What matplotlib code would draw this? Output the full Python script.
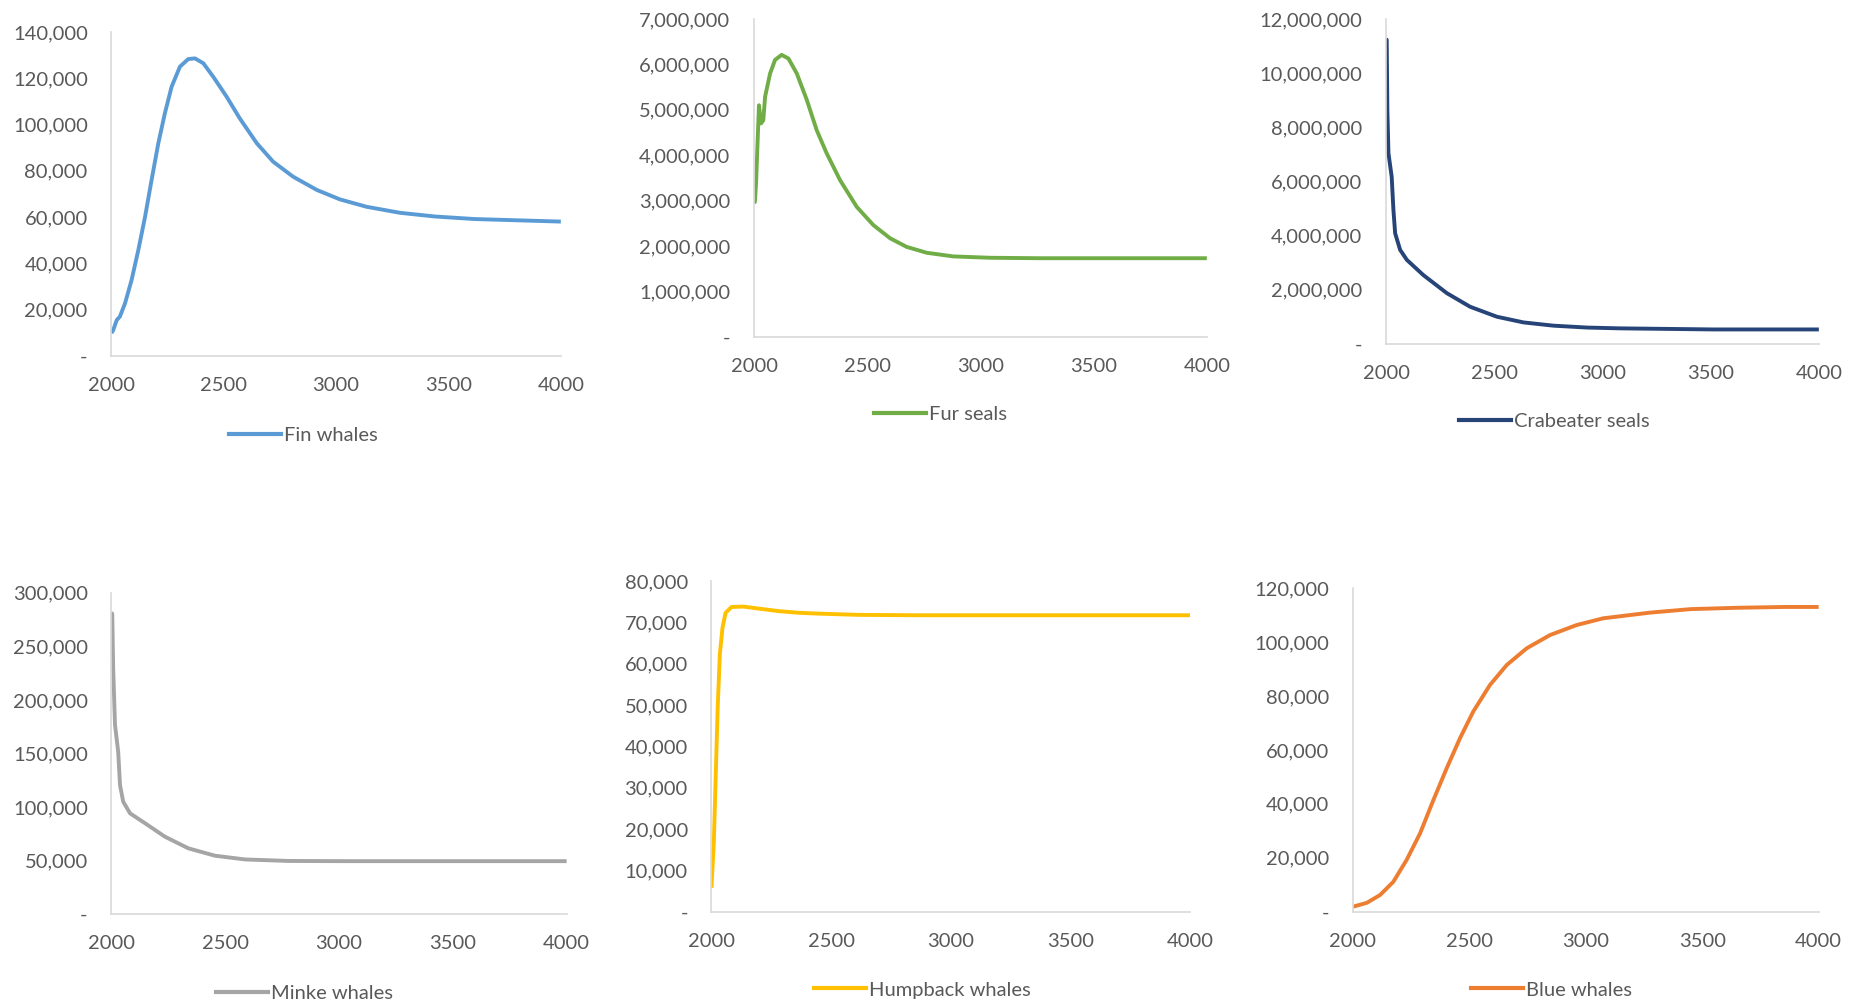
import numpy as np
import matplotlib
matplotlib.use("Agg")
import matplotlib.pyplot as plt
from matplotlib.ticker import FuncFormatter, MultipleLocator
from matplotlib.lines import Line2D

plt.rcParams['font.family'] = ['Lato', 'DejaVu Sans']

# values (year, population)
fin_years = [2000, 2008, 2024, 2038, 2061, 2090, 2120, 2150, 2179, 2209, 2238, 2268, 2305,
             2342, 2372, 2409, 2453, 2513, 2571, 2647, 2720, 2809, 2914, 3017, 3136, 3284,
             3440, 3616, 3792, 4000]
fin_vals = [9800, 11000, 15400, 16900, 22700, 32700, 45700, 60100, 76000, 91900, 104800,
            116300, 125000, 128300, 128600, 126500, 120700, 112000, 102700, 91900, 83900,
            77400, 71700, 67600, 64400, 61800, 60200, 59100, 58600, 58000]

fur_years = [2000, 2004, 2009, 2016, 2022, 2031, 2041, 2049, 2071, 2093, 2122, 2152, 2189,
             2233, 2277, 2321, 2380, 2454, 2527, 2601, 2674, 2763, 2880, 3042, 3263, 3600, 4000]
fur_vals = [2.95e6, 2.97e6, 3.38e6, 4.33e6, 5.1e6, 4.7e6, 4.77e6, 5.29e6, 5.8e6, 6.1e6,
            6.21e6, 6.13e6, 5.8e6, 5.22e6, 4.55e6, 4.04e6, 3.45e6, 2.86e6, 2.46e6, 2.17e6,
            1.98e6, 1.85e6, 1.77e6, 1.74e6, 1.73e6, 1.73e6, 1.73e6]

crab_years = [2000, 2003, 2006, 2011, 2026, 2034, 2042, 2065, 2096, 2172, 2281, 2388, 2512,
              2635, 2773, 2928, 3082, 3300, 3512, 3750, 4000]
crab_vals = [11.28e6, 11.22e6, 8.64e6, 7.04e6, 6.17e6, 4.94e6, 4.08e6, 3.47e6, 3.10e6,
             2.54e6, 1.87e6, 1.37e6, 1.0e6, 0.79e6, 0.67e6, 0.6e6, 0.57e6, 0.55e6, 0.53e6,
             0.53e6, 0.53e6]

minke_years = [2000, 2004, 2008, 2016, 2030, 2038, 2052, 2082, 2148, 2235, 2338, 2455, 2587,
               2777, 3026, 3500, 4000]
minke_vals = [282000, 280000, 229500, 176600, 151600, 120500, 105000, 94100, 84800, 72300,
              61400, 54500, 51000, 49600, 49400, 49400, 49400]

hump_years = [2000, 2010, 2018, 2026, 2035, 2046, 2059, 2084, 2133, 2199, 2281, 2364, 2446,
              2610, 2857, 3500, 4000]
hump_vals = [5800, 16800, 33000, 49200, 62200, 68600, 72300, 73700, 73800, 73300, 72700,
             72300, 72100, 71800, 71700, 71700, 71700]

blue_years = [2000, 2060, 2117, 2174, 2231, 2289, 2346, 2403, 2460, 2517, 2589, 2661, 2747,
              2847, 2961, 3075, 3276, 3450, 3650, 3850, 4000]
blue_vals = [1850, 3300, 6200, 11100, 19200, 29100, 41400, 53200, 64300, 74200, 84100, 91500,
             97700, 102600, 106300, 108800, 110900, 112200, 112700, 113000, 113000]

TEXT = '#595959'
AXIS = '#d9d9d9'


def fmt(v, pos):
    if abs(v) < 1e-9:
        return '-'
    return '{:,}'.format(int(round(v)))


# (name, years, values, colour, ymax, ystep, axes rect, legend anchor)
panels = [
    ('Fin whales', fin_years, fin_vals, '#5b9bd5', 140000, 20000,
     [0.0599, 0.6468, 0.2418, 0.3214], (0.1232, 0.568)),
    ('Fur seals', fur_years, fur_vals, '#70ad47', 7e6, 1e6,
     [0.4056, 0.6656, 0.2436, 0.3155], (0.4701, 0.588)),
    ('Crabeater seals', crab_years, crab_vals, '#264478', 12e6, 2e6,
     [0.7456, 0.6586, 0.2328, 0.3225], (0.7848, 0.581)),
    ('Minke whales', minke_years, minke_vals, '#a5a5a5', 300000, 50000,
     [0.0599, 0.0923, 0.2449, 0.3190], (0.1162, 0.0134)),
    ('Humpback whales', hump_years, hump_vals, '#ffc000', 80000, 10000,
     [0.3827, 0.0946, 0.2576, 0.3285], (0.4379, 0.0169)),
    ('Blue whales', blue_years, blue_vals, '#ed7d31', 120000, 20000,
     [0.7277, 0.0946, 0.2506, 0.3214], (0.7913, 0.0169)),
]

fig = plt.figure(figsize=(18.59, 10.07), dpi=100)

for name, yrs, vals, col, ymax, ystep, rect, anchor in panels:
    ax = fig.add_axes(rect)
    ax.plot(yrs, vals, color=col, lw=2.8, solid_joinstyle='round', solid_capstyle='butt')
    ax.set_xlim(2000, 4000)
    ax.set_ylim(0, ymax)
    ax.xaxis.set_major_locator(MultipleLocator(500))
    ax.yaxis.set_major_locator(MultipleLocator(ystep))
    ax.yaxis.set_major_formatter(FuncFormatter(fmt))
    for s in ['top', 'right']:
        ax.spines[s].set_visible(False)
    for s in ['left', 'bottom']:
        ax.spines[s].set_color(AXIS)
        ax.spines[s].set_linewidth(1.2)
    ax.tick_params(axis='y', length=0, pad=17, labelsize=14.5, labelcolor=TEXT)
    ax.tick_params(axis='x', length=0, pad=15, labelsize=14.5, labelcolor=TEXT)
    handle = Line2D([], [], color=col, lw=3)
    fig.legend([handle], [name], loc='center left', bbox_to_anchor=anchor,
               bbox_transform=fig.transFigure, frameon=False, fontsize=14.5,
               labelcolor=TEXT, handlelength=2.6, handletextpad=0.15,
               borderpad=0, borderaxespad=0)

fig.savefig('out.png', dpi=100)
